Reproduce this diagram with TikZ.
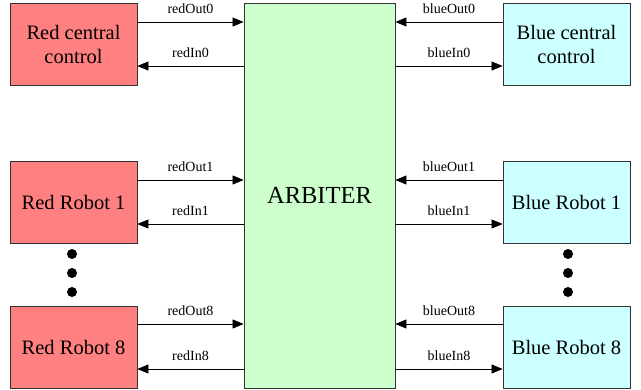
\documentclass[tikz,border=0pt]{standalone}
\usepackage{fontspec}
\setmainfont{Liberation Serif}
\newfontfamily\tnr{Liberation Serif}
\usetikzlibrary{arrows.meta}
\definecolor{redf}{RGB}{255,128,128}
\definecolor{bluef}{RGB}{204,255,255}
\definecolor{greenf}{RGB}{204,255,204}
\begin{document}
\begin{tikzpicture}[x=1pt,y=-1pt,
  box/.style={draw=black!80,line width=0.8pt,minimum width=127pt,minimum height=82pt,inner sep=0pt,align=center,font=\tnr\fontsize{20.5}{24}\selectfont},
  redbox/.style={box,fill=redf},
  bluebox/.style={box,fill=bluef},
  arr/.style={line width=0.7pt,-{Triangle[length=11pt,width=9pt]}},
  lab/.style={midway,above=6pt,inner sep=2pt,font=\tnr\fontsize{14}{16}\selectfont},
  dot/.style={circle,fill=black,minimum size=10pt,inner sep=0pt}]
\useasboundingbox (0,0) rectangle (641,390);
\node[draw=black!80,line width=0.8pt,fill=greenf,minimum width=151pt,minimum height=385pt,inner sep=0pt,font=\tnr\fontsize{24.5}{28}\selectfont] (arb) at (319.5,195.5) {ARBITER};
\node[redbox] (rc) at (73.5,44) {Red central\\control};
\node[redbox] (r1) at (73.5,202) {Red Robot 1};
\node[redbox] (r8) at (73.5,347) {Red Robot 8};
\node[bluebox] (bc) at (566.5,44) {Blue central\\control};
\node[bluebox] (b1) at (566.5,202) {Blue Robot 1};
\node[bluebox] (b8) at (566.5,347) {Blue Robot 8};
% red side
\draw[arr] (rc.east |- 0,22) -- node[lab]{redOut0} (arb.west |- 0,22);
\draw[arr] (arb.west |- 0,66) -- node[lab]{redIn0} (rc.east |- 0,66);
\draw[arr] (r1.east |- 0,180) -- node[lab]{redOut1} (arb.west |- 0,180);
\draw[arr] (arb.west |- 0,224) -- node[lab]{redIn1} (r1.east |- 0,224);
\draw[arr] (r8.east |- 0,324) -- node[lab]{redOut8} (arb.west |- 0,324);
\draw[arr] (arb.west |- 0,369) -- node[lab]{redIn8} (r8.east |- 0,369);
% blue side
\draw[arr] (bc.west |- 0,22) -- node[lab]{blueOut0} (arb.east |- 0,22);
\draw[arr] (arb.east |- 0,66) -- node[lab]{blueIn0} (bc.west |- 0,66);
\draw[arr] (b1.west |- 0,180) -- node[lab]{blueOut1} (arb.east |- 0,180);
\draw[arr] (arb.east |- 0,224) -- node[lab]{blueIn1} (b1.west |- 0,224);
\draw[arr] (b8.west |- 0,324) -- node[lab]{blueOut8} (arb.east |- 0,324);
\draw[arr] (arb.east |- 0,369) -- node[lab]{blueIn8} (b8.west |- 0,369);
% dots
\node[dot] (rd1) at (72,254) {};
\node[dot] (rd2) at (72,273) {};
\node[dot] (rd3) at (72,292) {};
\node[dot] (bd1) at (568,254) {};
\node[dot] (bd2) at (568,273) {};
\node[dot] (bd3) at (568,292) {};
\end{tikzpicture}
\end{document}
